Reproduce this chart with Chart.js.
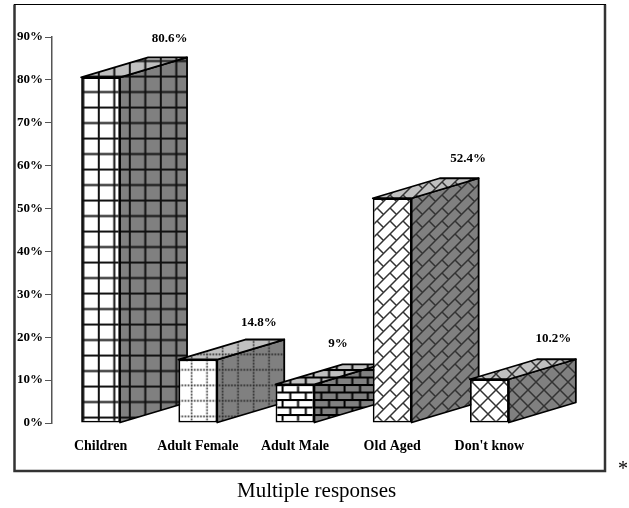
<!DOCTYPE html>
<html>
<head>
<meta charset="utf-8">
<script src="https://cdn.jsdelivr.net/npm/chart.js@4"></script>
<style>
  body { margin: 0; background: #fff; }
  canvas { display: block; }
</style>
</head>
<body>
<canvas id="myChart" width="629" height="508"></canvas>
<script>
const categories = ['Children', 'Adult Female', 'Adult Male', 'Old Aged', "Don't know"];
const responses = [80.6, 14.8, 9, 52.4, 10.2];
const patternNames = ['grid', 'dots', 'bricks', 'diagonalBricks', 'crossHatch'];

// where each value label sits relative to the front face
const labelOffsetX = [69, 61, 43, 76, 64];
const labelOffsetY = [-39, -37, -41, -40, -41];

const DEPTH_X = 67;
const DEPTH_Y = -20;
const FONT = '"Liberation Serif", "Times New Roman", serif';

// tiles are 31px wide so the 15.5px cell of the original stays exact
const painters = {
  grid: { w: 31, h: 31, dx: 5.8, dy: 14.5, draw(c) {
    c.lineWidth = 2;
    c.strokeStyle = '#111';
    c.beginPath();
    [0, 15.5, 31].forEach(p => {
      c.moveTo(p, 0); c.lineTo(p, 31);
      c.moveTo(0, p); c.lineTo(31, p);
    });
    c.stroke();
  } },
  dots: { w: 31, h: 31, dx: 4.7, dy: 12.5, draw(c) {
    c.fillStyle = '#222';
    for (let i = 0; i < 31; i += 3.1) {
      [0, 15.5].forEach(p => {
        c.fillRect(i, p, 1.6, 1.6);
        c.fillRect(p, i, 1.6, 1.6);
      });
    }
  } },
  bricks: { w: 31, h: 15, dx: 3.5, dy: 10, draw(c) {
    c.lineWidth = 2;
    c.strokeStyle = '#000';
    c.beginPath();
    [0, 7.5, 15].forEach(y => { c.moveTo(0, y); c.lineTo(31, y); });
    [0, 15.5, 31].forEach(x => { c.moveTo(x, 0); c.lineTo(x, 7.5); });
    [7.75, 23.25].forEach(x => { c.moveTo(x, 7.5); c.lineTo(x, 15); });
    c.stroke();
  } },
  diagonalBricks: { w: 13, h: 13, dx: 0, dy: 0, draw(c) {
    c.lineWidth = 1.5;
    c.strokeStyle = '#333';
    c.beginPath();
    c.moveTo(-1, 14); c.lineTo(14, -1);
    c.moveTo(-1, 1); c.lineTo(1, -1);
    c.moveTo(12, 14); c.lineTo(14, 12);
    c.moveTo(0, 0); c.lineTo(6.5, 6.5);
    c.stroke();
  } },
  crossHatch: { w: 16, h: 16, dx: 0, dy: 6, draw(c) {
    c.lineWidth = 1.5;
    c.strokeStyle = '#333';
    c.beginPath();
    c.moveTo(-1, -1); c.lineTo(17, 17);
    c.moveTo(-1, 17); c.lineTo(17, -1);
    c.stroke();
  } }
};

function makePattern(name, background) {
  const painter = painters[name];
  const tile = document.createElement('canvas');
  tile.width = painter.w;
  tile.height = painter.h;
  const c = tile.getContext('2d');
  c.fillStyle = background;
  c.fillRect(0, 0, tile.width, tile.height);
  painter.draw(c);
  const pattern = c.createPattern(tile, 'repeat');
  pattern.setTransform(new DOMMatrix().translate(painter.dx, painter.dy));
  return pattern;
}

function fillFace(ctx, points, fill) {
  ctx.beginPath();
  points.forEach((p, i) => i ? ctx.lineTo(p[0], p[1]) : ctx.moveTo(p[0], p[1]));
  ctx.closePath();
  ctx.fillStyle = fill;
  ctx.fill();
  ctx.lineWidth = 1.8;
  ctx.lineJoin = 'round';
  ctx.strokeStyle = '#000';
  ctx.stroke();
}

const box3d = {
  id: 'box3d',
  // side and top go under the front faces, so a later front covers an earlier side
  beforeDatasetsDraw(chart) {
    const ctx = chart.ctx;
    ctx.save();
    chart.getDatasetMeta(0).data.forEach((bar, i) => {
      const left = bar.x - bar.width / 2;
      const right = bar.x + bar.width / 2;
      fillFace(ctx, [[right, bar.y], [right + DEPTH_X, bar.y + DEPTH_Y], [right + DEPTH_X, bar.base + DEPTH_Y], [right, bar.base]],
        makePattern(patternNames[i], '#808080'));
      fillFace(ctx, [[left, bar.y], [left + DEPTH_X, bar.y + DEPTH_Y], [right + DEPTH_X, bar.y + DEPTH_Y], [right, bar.y]],
        makePattern(patternNames[i], '#c0c0c0'));
    });
    ctx.restore();
  },
  afterDraw(chart) {
    const ctx = chart.ctx;
    ctx.save();
    // outer frame: thin black top, heavier grey on the other three sides
    ctx.strokeStyle = '#333';
    ctx.lineWidth = 2.5;
    ctx.beginPath();
    ctx.moveTo(14.5, 4.5);
    ctx.lineTo(14.5, 471);
    ctx.lineTo(605, 471);
    ctx.lineTo(605, 4.5);
    ctx.stroke();
    ctx.strokeStyle = '#000';
    ctx.lineWidth = 1;
    ctx.beginPath();
    ctx.moveTo(14, 4.5);
    ctx.lineTo(606, 4.5);
    ctx.stroke();

    ctx.fillStyle = '#000';
    ctx.textAlign = 'center';
    ctx.textBaseline = 'middle';
    ctx.font = 'bold 13px ' + FONT;
    chart.getDatasetMeta(0).data.forEach((bar, i) => {
      ctx.fillText(responses[i] + '%', bar.x + labelOffsetX[i], bar.y + labelOffsetY[i]);
    });
    ctx.textAlign = 'left';
    ctx.font = '21px ' + FONT;
    ctx.fillText('Multiple responses', 237, 491);
    ctx.font = '20px ' + FONT;
    ctx.fillText('*', 618, 470);
    ctx.restore();
  }
};

new Chart(document.getElementById('myChart'), {
  type: 'bar',
  data: {
    labels: categories,
    datasets: [{
      data: responses,
      backgroundColor: patternNames.map(n => makePattern(n, '#ffffff')),
      borderColor: '#000',
      borderWidth: 1.8,
      borderSkipped: false,
      barPercentage: 0.4,
      categoryPercentage: 1
    }]
  },
  plugins: [box3d],
  options: {
    responsive: false,
    animation: false,
    layout: { padding: { left: 14, right: 91, top: 37, bottom: 0 } },
    plugins: { legend: { display: false }, tooltip: { enabled: false } },
    scales: {
      x: {
        grid: { display: false },
        border: { display: false },
        afterFit(scale) { scale.height = 85; },
        ticks: {
          padding: 7,
          maxRotation: 0,
          autoSkip: false,
          color: '#000',
          font: { family: FONT, weight: 'bold', size: 14 }
        }
      },
      y: {
        min: 0,
        max: 90,
        afterFit(scale) { scale.width = 38; },
        grid: { drawOnChartArea: false, tickLength: 7, color: '#555' },
        border: { color: '#555', width: 1.5 },
        ticks: {
          stepSize: 10,
          padding: 2,
          color: '#000',
          font: { family: FONT, weight: 'bold', size: 13 },
          callback: v => v + '%'
        }
      }
    }
  }
});
</script>
</body>
</html>
